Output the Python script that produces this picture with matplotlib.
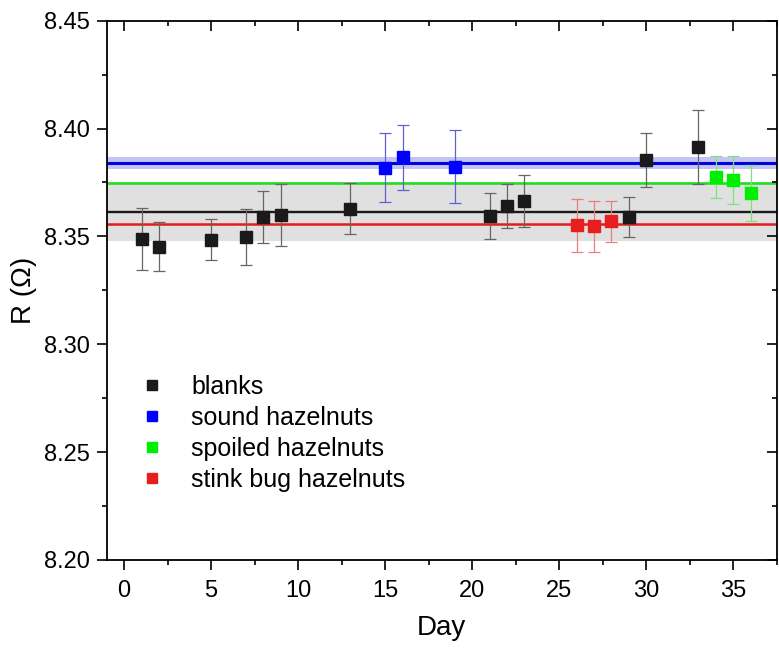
import matplotlib.pyplot as plt
from matplotlib.lines import Line2D
from matplotlib.ticker import MultipleLocator

plt.rcParams['font.family'] = ['Liberation Sans', 'DejaVu Sans']

# 数据：天数、电阻值、误差
blank_day = [1, 2, 5, 7, 8, 9, 13, 21, 22, 23, 29, 30, 33]
blank_r = [8.3486, 8.3453, 8.3485, 8.3497, 8.3590, 8.3598, 8.3629, 8.3595, 8.3640, 8.3664, 8.3590, 8.3855, 8.3914]
blank_err = [0.0144, 0.0115, 0.0096, 0.0128, 0.0121, 0.0143, 0.0119, 0.0105, 0.0103, 0.0121, 0.0094, 0.0125, 0.0172]

sound_day = [15, 16, 19]
sound_r = [8.3819, 8.3866, 8.3824]
sound_err = [0.0159, 0.0149, 0.0170]

spoiled_day = [34, 35, 36]
spoiled_r = [8.3776, 8.3762, 8.3700]
spoiled_err = [0.0096, 0.0111, 0.0130]

stink_day = [26, 27, 28]
stink_r = [8.3551, 8.3547, 8.3570]
stink_err = [0.0123, 0.0118, 0.0096]

# 平均值及标准差带
blank_mean, blank_sd = 8.3613, 0.0134
sound_mean, sound_sd = 8.3841, 0.0028
spoiled_mean = 8.3749
stink_mean = 8.3556

fig = plt.figure(figsize=(7.79, 6.48), dpi=100)
ax = fig.add_axes([0.137, 0.136, 0.860, 0.832])

ax.axhspan(blank_mean - blank_sd, blank_mean + blank_sd, color='#e0e0e0', zorder=0, lw=0)
ax.axhspan(sound_mean - sound_sd, sound_mean + sound_sd, color='#c4c4f4', zorder=0, lw=0)
ax.axhline(sound_mean, color='#0000e0', lw=2.2, zorder=1)
ax.axhline(spoiled_mean, color='#22dd22', lw=1.9, zorder=1)
ax.axhline(blank_mean, color='#1a1a1a', lw=1.7, zorder=1)
ax.axhline(stink_mean, color='#e01c1c', lw=1.8, zorder=1)

series = [
    (blank_day, blank_r, blank_err, '#1a1a1a', '#666666', 'blanks'),
    (sound_day, sound_r, sound_err, '#0000ff', '#6060d0', 'sound hazelnuts'),
    (spoiled_day, spoiled_r, spoiled_err, '#00ee00', '#80e080', 'spoiled hazelnuts'),
    (stink_day, stink_r, stink_err, '#e61e1e', '#e88080', 'stink bug hazelnuts'),
]
handles = []
for d, r, e, c, ec, lab in series:
    ax.errorbar(d, r, yerr=e, fmt='s', color=c, ms=9, mec=c, ecolor=ec,
                elinewidth=0.9, capsize=4.5, capthick=0.9, zorder=3)
    handles.append(Line2D([], [], marker='s', ls='none', color=c, ms=7, label=lab))

ax.legend(handles=handles, loc='upper left', bbox_to_anchor=(0.016, 0.385),
          frameon=False, fontsize=18, handletextpad=1.05, labelspacing=0.28,
          handlelength=1.0)

ax.set_xlim(-1, 37.5)
ax.set_ylim(8.20, 8.45)
ax.xaxis.set_major_locator(MultipleLocator(5))
ax.xaxis.set_minor_locator(MultipleLocator(2.5))
ax.yaxis.set_major_locator(MultipleLocator(0.05))
ax.yaxis.set_minor_locator(MultipleLocator(0.025))
ax.yaxis.set_major_formatter(plt.FormatStrFormatter('%.2f'))

ax.tick_params(axis='both', which='major', labelsize=17, length=7, width=1.2)
ax.tick_params(axis='both', which='minor', length=3.8, width=1.2)
ax.tick_params(axis='x', which='both', direction='out', top=True)
ax.tick_params(axis='x', which='major', pad=7.5)
ax.tick_params(axis='y', which='both', direction='out', right=True)
ax.tick_params(axis='y', which='major', pad=5)
for t in ax.xaxis.get_major_ticks() + ax.xaxis.get_minor_ticks():
    t.tick2line.set_marker(3)
for t in ax.yaxis.get_major_ticks() + ax.yaxis.get_minor_ticks():
    t.tick2line.set_marker(0)
for s in ax.spines.values():
    s.set_linewidth(1.3)

ax.set_xlabel('Day', fontsize=20, labelpad=9)
ax.set_ylabel('R (Ω)', fontsize=20, labelpad=5)

plt.savefig('out.png', dpi=100)
